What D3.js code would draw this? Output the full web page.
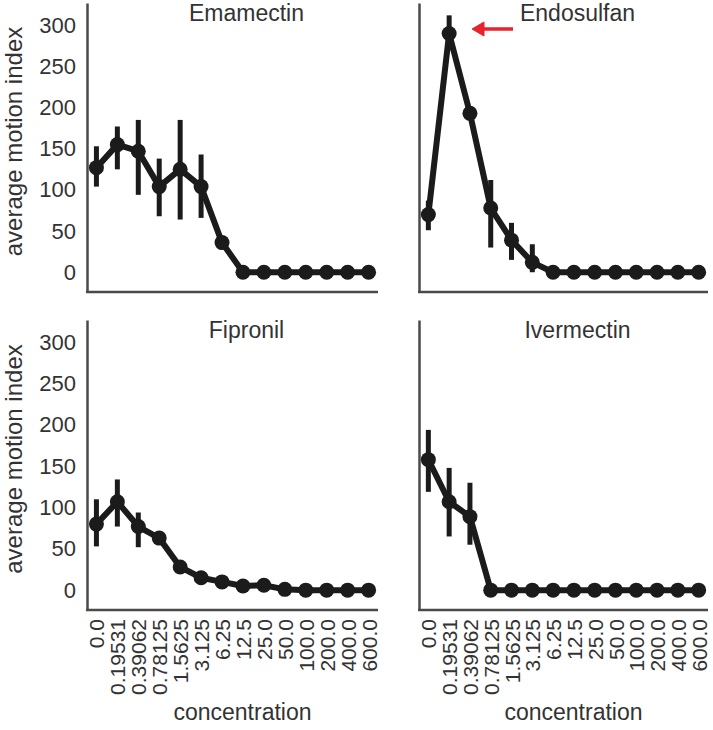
<!DOCTYPE html>
<html>
<head>
<meta charset="utf-8">
<script src="https://cdn.jsdelivr.net/npm/d3@7"></script>
<style>
  html, body { margin: 0; padding: 0; background: #fff; }
  svg { display: block; }
  text { font-family: "Liberation Sans", Arial, Helvetica, sans-serif; }
</style>
</head>
<body>
<svg id="chart" width="713" height="730"></svg>
<script>
const concentrations = ["0.0","0.19531","0.39062","0.78125","1.5625","3.125","6.25","12.5","25.0","50.0","100.0","200.0","400.0","600.0"];
const yTicks = [0, 50, 100, 150, 200, 250, 300];
const compounds = ["Emamectin", "Endosulfan", "Fipronil", "Ivermectin"];

const emamectinMean = [127, 155, 147, 104, 125, 104, 36, 0, 0, 0, 0, 0, 0, 0];
const emamectinLo   = [104, 125, 94, 68, 64, 66, 30, 0, 0, 0, 0, 0, 0, 0];
const emamectinHi   = [153, 177, 185, 138, 185, 143, 42, 0, 0, 0, 0, 0, 0, 0];

const endosulfanMean = [70, 290, 193, 78, 39, 12, 0, 0, 0, 0, 0, 0, 0, 0];
const endosulfanLo   = [51, 272, 186, 30, 15, 0, 0, 0, 0, 0, 0, 0, 0, 0];
const endosulfanHi   = [87, 312, 200, 112, 60, 34, 0, 0, 0, 0, 0, 0, 0, 0];

const fipronilMean = [80, 107, 77, 63, 28, 15, 10, 5, 6, 1, 0, 0, 0, 0];
const fipronilLo   = [53, 77, 52, 58, 25, 13, 9, 4, 5, 1, 0, 0, 0, 0];
const fipronilHi   = [110, 134, 94, 68, 31, 17, 11, 6, 7, 1, 0, 0, 0, 0];

const ivermectinMean = [158, 107, 89, 0, 0, 0, 0, 0, 0, 0, 0, 0, 0, 0];
const ivermectinLo   = [119, 65, 55, 0, 0, 0, 0, 0, 0, 0, 0, 0, 0, 0];
const ivermectinHi   = [194, 148, 130, 0, 0, 0, 0, 0, 0, 0, 0, 0, 0, 0];

const seriesMean = [emamectinMean, endosulfanMean, fipronilMean, ivermectinMean];
const seriesLo = [emamectinLo, endosulfanLo, fipronilLo, ivermectinLo];
const seriesHi = [emamectinHi, endosulfanHi, fipronilHi, ivermectinHi];

const svg = d3.select("#chart");
const ink = "#1b1b1b";
const axisColor = "#4a4a4a";
const textColor = "#333333";

// panel layout
const cols = [{x0: 87, x1: 378}, {x0: 419, x1: 708}];
const rows = [{y0: 3, y1: 292}, {y0: 320, y1: 610}];

compounds.forEach((name, i) => {
  const col = cols[i % 2], row = rows[Math.floor(i / 2)];
  const x = d3.scalePoint().domain(concentrations).range([col.x0, col.x1]).padding(0.45);
  const y = d3.scaleLinear().domain([-24, 327]).range([row.y1, row.y0]);
  const g = svg.append("g");

  // y axis
  const yAx = g.append("g").attr("transform", `translate(${col.x0},0)`)
    .call(d3.axisLeft(y).tickValues(yTicks).tickSize(0).tickSizeOuter(0).tickPadding(11));
  yAx.select(".domain").attr("stroke", axisColor).attr("stroke-width", 2.5);
  yAx.selectAll("text").attr("font-size", 22).attr("fill", textColor)
    .style("font-family", '"Liberation Sans", Arial, sans-serif');
  if (i % 2 === 1) yAx.selectAll(".tick text").remove();

  // x axis
  const xAx = g.append("g").attr("transform", `translate(0,${row.y1})`)
    .call(d3.axisBottom(x).tickSize(0).tickSizeOuter(0));
  xAx.select(".domain").attr("stroke", axisColor).attr("stroke-width", 2.5)
    .attr("d", `M${col.x0 - 1},0H${col.x1}`);
  if (row === rows[1]) {
    xAx.selectAll(".tick text")
      .attr("transform", "rotate(-90)")
      .attr("x", -9).attr("y", 0).attr("dy", "0.36em")
      .attr("text-anchor", "end")
      .attr("font-size", 21).attr("fill", textColor)
      .style("font-family", '"Liberation Sans", Arial, sans-serif');
  } else {
    xAx.selectAll(".tick text").remove();
  }

  // title
  g.append("text").attr("x", (col.x0 + col.x1) / 2 + 14).attr("y", row.y0 + 18)
    .attr("text-anchor", "middle").attr("font-size", 23).attr("fill", textColor).text(name);

  const mean = seriesMean[i], lo = seriesLo[i], hi = seriesHi[i];
  const data = concentrations.map((c, k) => ({c, m: mean[k], lo: lo[k], hi: hi[k]}));

  // error bars
  g.selectAll("line.err").data(data).join("line").attr("class", "err")
    .attr("x1", d => x(d.c)).attr("x2", d => x(d.c))
    .attr("y1", d => y(d.lo)).attr("y2", d => y(d.hi))
    .attr("stroke", ink).attr("stroke-width", 5);

  // line
  g.append("path").datum(data)
    .attr("d", d3.line().x(d => x(d.c)).y(d => y(d.m)))
    .attr("fill", "none").attr("stroke", ink).attr("stroke-width", 6)
    .attr("stroke-linejoin", "round");

  // points
  g.selectAll("circle").data(data).join("circle")
    .attr("cx", d => x(d.c)).attr("cy", d => y(d.m)).attr("r", 7.5).attr("fill", ink);

  // y label
  if (i % 2 === 0) {
    g.append("text").attr("transform", `translate(22,${(row.y0 + row.y1) / 2 - 6}) rotate(-90)`)
      .attr("text-anchor", "middle").attr("font-size", 24).attr("fill", textColor)
      .text("average motion index");
  }
  // x label
  if (row === rows[1]) {
    g.append("text").attr("x", (col.x0 + col.x1) / 2 + 10).attr("y", 720)
      .attr("text-anchor", "middle").attr("font-size", 23).attr("fill", textColor)
      .text("concentration");
  }
});

// red arrow annotation in Endosulfan panel
const arrow = svg.append("g").attr("stroke", "#e8232b").attr("fill", "#e8232b");
arrow.append("line").attr("x1", 513).attr("y1", 29).attr("x2", 480).attr("y2", 29).attr("stroke-width", 3.5);
arrow.append("path").attr("d", "M472,29 L484,22 L484,36 Z").attr("stroke-width", 1);
</script>
</body>
</html>
